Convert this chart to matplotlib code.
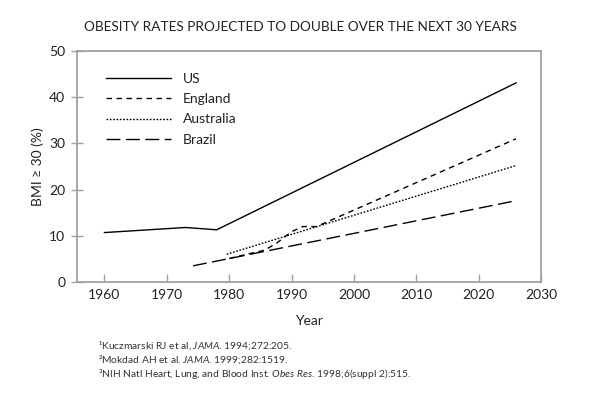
import matplotlib
matplotlib.use("Agg")
import matplotlib.pyplot as plt

plt.rcParams['font.family'] = ['Lato', 'DejaVu Sans']
plt.rcParams['mathtext.fontset'] = 'custom'
plt.rcParams['mathtext.rm'] = 'Lato'
plt.rcParams['mathtext.it'] = 'Lato:italic'

title = "OBESITY RATES PROJECTED TO DOUBLE OVER THE NEXT 30 YEARS"

us_years = [1960, 1973, 1978, 2026]
us_vals = [10.7, 11.8, 11.3, 43.1]

england_years = [1980, 1985.7, 1987.6, 1990, 1991.8, 1994, 2026]
england_vals = [5.1, 6.9, 8.4, 10.9, 12.0, 12.0, 31.0]

australia_years = [1979.6, 2026]
australia_vals = [6.0, 25.2]

brazil_years = [1974.2, 2026]
brazil_vals = [3.5, 17.6]

xticks = [1960, 1970, 1980, 1990, 2000, 2010, 2020, 2030]
yticks = [0, 10, 20, 30, 40, 50]

footnotes = [
    "\u00b9Kuczmarski RJ et al, $\\mathit{JAMA}$. 1994;272:205.",
    "\u00b2Mokdad AH et al. $\\mathit{JAMA}$. 1999;282:1519.",
    "\u00b3NIH Natl Heart, Lung, and Blood Inst. $\\mathit{Obes\\ Res}$. 1998;6(suppl 2):515.",
]

fig = plt.figure(figsize=(6, 3.95), dpi=100)
ax = fig.add_axes([77/600, 1-282/395, (541-77)/600, (282-51)/395])

lw = 1.0
ax.plot(us_years, us_vals, color='black', lw=lw, linestyle='-', label='US')
ax.plot(england_years, england_vals, color='black', lw=lw, linestyle=(0, (4, 3.2)), label='England')
ax.plot(australia_years, australia_vals, color='black', lw=lw, linestyle=(0, (1.2, 1.2)), label='Australia')
ax.plot(brazil_years, brazil_vals, color='black', lw=lw, linestyle=(0, (10, 4)), label='Brazil')

ax.set_xlim(1955.6, 2030)
ax.set_ylim(0, 50)
ax.set_xticks(xticks)
ax.set_yticks(yticks)

for s in ax.spines.values():
    s.set_color('#a0a0a0')
    s.set_linewidth(1.3)

ax.tick_params(axis='x', direction='in', length=6, width=1, color='#a0a0a0',
               labelsize=10, pad=5, labelcolor='#222222')
ax.tick_params(axis='y', direction='inout', length=9, width=1, color='#a0a0a0',
               labelsize=10, pad=4, labelcolor='#222222')

ax.set_xlabel("Year", fontsize=10, color='#222222', labelpad=10)
ax.set_ylabel("BMI \u2265 30 (%)", fontsize=10, color='#222222', labelpad=4)

leg = ax.legend(loc='upper left', bbox_to_anchor=(0.05, 0.93), frameon=False,
                fontsize=10, handlelength=4.7, handletextpad=0.85,
                labelspacing=0.6, borderaxespad=0)
for t in leg.get_texts():
    t.set_color('#222222')

fig.text(300/600, 1-27/395, title, ha='center', va='center', fontsize=9.8, color='#222222')

for i, fn in enumerate(footnotes):
    fig.text(98/600, 1-(346 + i*14)/395, fn, ha='left', va='center', fontsize=7.4, color='#333333')

fig.savefig("out.png", dpi=100)
